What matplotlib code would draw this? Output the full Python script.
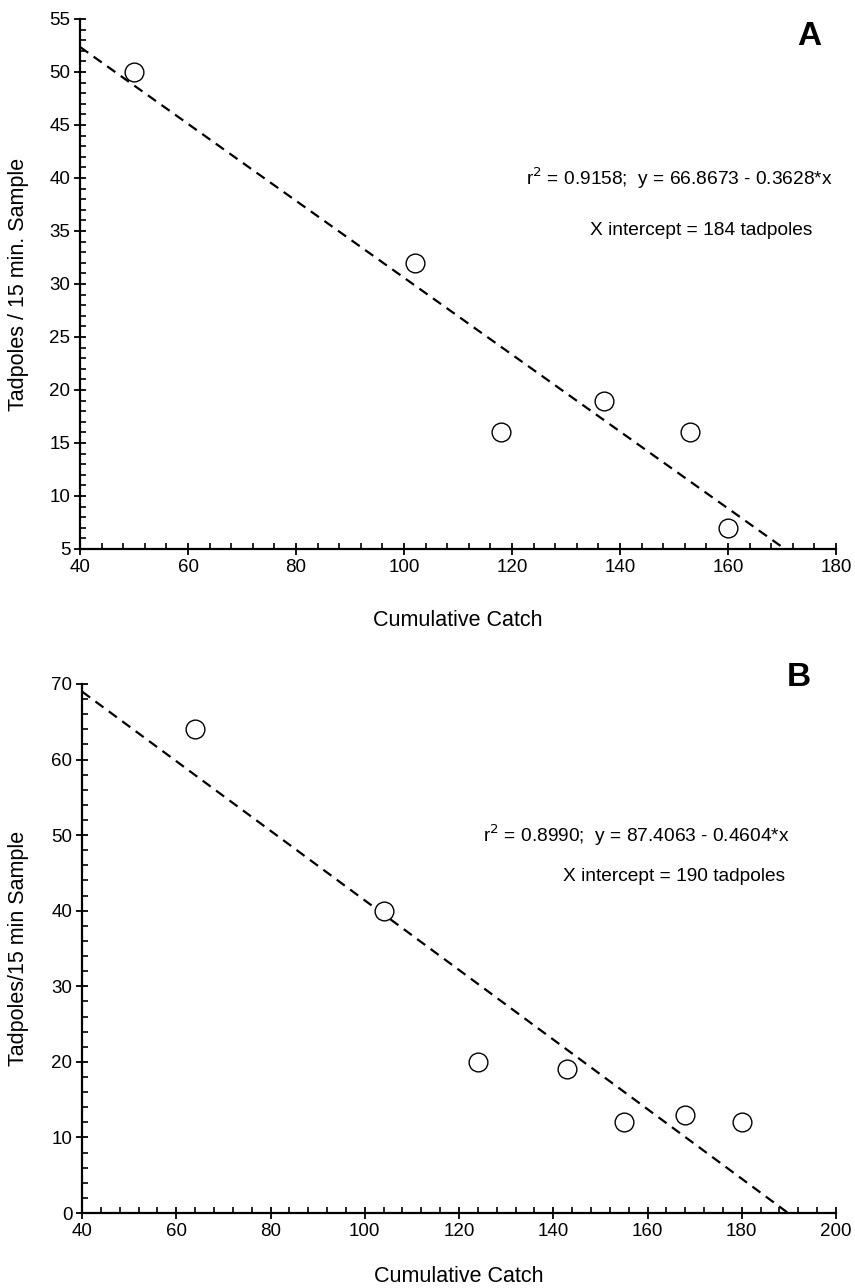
import numpy as np
import matplotlib.pyplot as plt
from matplotlib.ticker import MultipleLocator

plt.rcParams['font.family'] = ['Liberation Sans', 'DejaVu Sans']

# panel A data
catch_a = [50, 102, 118, 137, 153, 160]
tadpoles_a = [50, 32, 16, 19, 16, 7]
fit_a = (66.8673, -0.3628)

# panel B data
catch_b = [64, 104, 124, 143, 155, 168, 180]
tadpoles_b = [64, 40, 20, 19, 12, 13, 12]
fit_b = (87.4063, -0.4604)


def style_axes(ax, xlim, ylim, xmajor, xminor, ymajor, yminor):
    ax.set_xlim(*xlim)
    ax.set_ylim(*ylim)
    ax.xaxis.set_major_locator(MultipleLocator(xmajor))
    ax.xaxis.set_minor_locator(MultipleLocator(xminor))
    ax.yaxis.set_major_locator(MultipleLocator(ymajor))
    ax.yaxis.set_minor_locator(MultipleLocator(yminor))
    for s in ['top', 'right']:
        ax.spines[s].set_visible(False)
    for s in ['left', 'bottom']:
        ax.spines[s].set_linewidth(1.6)
    ax.tick_params(which='major', direction='inout', length=8, width=1.3,
                   labelsize=13.5, pad=3)
    ax.tick_params(which='minor', direction='in', length=4, width=1.2)


def draw_panel(ax, x, y, fit, ymin):
    # regression line runs from the left edge down to the x axis
    b0, b1 = fit
    x_end = (ymin - b0) / b1
    xs = np.array([ax.get_xlim()[0], x_end])
    ax.plot(xs, b0 + b1 * xs, color='black', lw=1.6,
            linestyle=(0, (4.5, 3)), zorder=2)
    ax.plot(x, y, 'o', ms=13.5, mfc='white', mec='black', mew=1.0,
            zorder=3, clip_on=False)


fig = plt.figure(figsize=(8.55, 12.88), dpi=100)

ax1 = fig.add_axes([0.0936, 0.5738, 0.8842, 0.4115])
style_axes(ax1, (40, 180), (5, 55), 20, 4, 5, 1)
draw_panel(ax1, catch_a, tadpoles_a, fit_a, 5)
ax1.set_xlabel('Cumulative Catch', fontsize=15.5)
ax1.set_ylabel('Tadpoles / 15 min. Sample', fontsize=15.5)
ax1.xaxis.set_label_coords(0.5, -0.115)
ax1.yaxis.set_label_coords(-0.068, 0.5)
ax1.text(122.5, 40, r'r$^2$ = 0.9158;  y = 66.8673 - 0.3628*x',
         fontsize=13.8, va='center')
ax1.text(134.4, 35, 'X intercept = 184 tadpoles', fontsize=13.8,
         va='center')
ax1.text(175, 53.3, 'A', fontsize=24, fontweight='bold', ha='center',
         va='center')

ax2 = fig.add_axes([0.0959, 0.0582, 0.8819, 0.4108])
style_axes(ax2, (40, 200), (0, 70), 20, 4, 10, 2)
draw_panel(ax2, catch_b, tadpoles_b, fit_b, 0)
ax2.set_xlabel('Cumulative Catch', fontsize=15.5)
ax2.set_ylabel('Tadpoles/15 min Sample', fontsize=15.5)
ax2.xaxis.set_label_coords(0.5, -0.1)
ax2.yaxis.set_label_coords(-0.07, 0.5)
ax2.text(125, 50, r'r$^2$ = 0.8990;  y = 87.4063 - 0.4604*x',
         fontsize=13.8, va='center')
ax2.text(142, 44.5, 'X intercept = 190 tadpoles', fontsize=13.8,
         va='center')
ax2.text(192, 70.8, 'B', fontsize=24, fontweight='bold', ha='center',
         va='center', clip_on=False)

fig.savefig('out.png', dpi=100)
